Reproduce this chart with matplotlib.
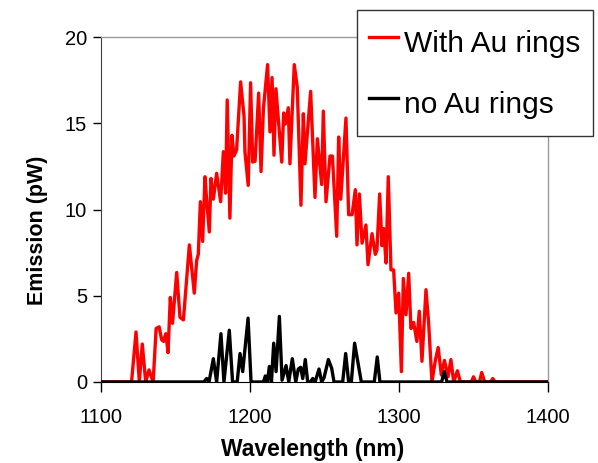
import matplotlib
matplotlib.use('Agg')
import matplotlib.pyplot as plt

plt.rcParams['font.family'] = ['Liberation Sans', 'DejaVu Sans']

# emission spectra (wavelength in nm, emission in pW)
wl_au = [1100, 1120.5, 1123.5, 1125.7, 1127.7, 1130, 1132.2, 1135, 1137, 1139,
         1140.7, 1142, 1143.5, 1145, 1146.5, 1148, 1150.8, 1153, 1155.3, 1159.3,
         1162.6, 1164.2, 1165.3, 1166.7, 1168.2, 1169.8, 1170.9, 1172.7, 1173.8, 1175.4,
         1177.6, 1180.3, 1182.1, 1183.6, 1184.7, 1186.5, 1187.9, 1189.2, 1191, 1193.7,
         1196, 1196.6, 1198.8, 1200.4, 1201.8, 1203.4, 1205.8, 1207.4, 1209, 1211.8,
         1213.4, 1214.8, 1216.1, 1217.4, 1221.3, 1222.6, 1223.7, 1225.7, 1226.8, 1229.7,
         1231.7, 1234.2, 1235.8, 1236.9, 1240.7, 1243.6, 1245.2, 1248.1, 1249.2, 1251,
         1253.7, 1255.3, 1258.2, 1259.5, 1260.9, 1264.4, 1266.2, 1268.5, 1270.7, 1271.8,
         1273.4, 1275.2, 1277.8, 1279.2, 1281.9, 1284.1, 1285.2, 1287, 1288.6, 1289.7,
         1291.3, 1292.8, 1294.6, 1296.4, 1298, 1299.8, 1301.6, 1302.9, 1304.7, 1306.5,
         1308, 1309.8, 1312, 1313.6, 1315.4, 1318.1, 1319.9, 1322.1, 1324.4, 1326.3,
         1328.4, 1330.5, 1332.9, 1334.8, 1336.7, 1339.2, 1341.2, 1348.5, 1350, 1351.5,
         1354, 1355.5, 1357.5, 1361.5, 1362.9, 1364.5, 1400]
em_au = [0, 0, 2.9, 0, 2.2, 0, 0.7, 0, 3.1, 3.2,
         2.45, 2.35, 2.8, 1.7, 4.9, 3.4, 6.35, 3.75, 3.6, 7.95,
         5.15, 7.05, 7.4, 10.45, 8.15, 11.9, 10.55, 8.7, 11.8, 10.6,
         12.1, 10.45, 13.35, 10.95, 16.35, 9.5, 14.3, 13.1, 13.45, 17.4,
         15.4, 13.35, 11.4, 17.35, 12.75, 12.8, 16.75, 12.2, 15.85, 18.4,
         14.5, 17.65, 13.15, 17.0, 12.75, 15.6, 14.95, 15.9, 12.65, 18.4,
         17.1, 10.25, 15.55, 12.65, 16.85, 10.7, 14.1, 11.45, 15.7, 10.45,
         13.1, 13.1, 8.45, 14.2, 10.6, 15.3, 9.7, 9.7, 11.15, 7.95,
         10.9, 8.05, 9.1, 6.8, 8.6, 7.4, 7.65, 10.9, 7.9, 8.9,
         6.9, 11.9, 6.5, 6.5, 4.0, 5.15, 0.6, 6.0, 3.9, 6.3,
         3.1, 3.45, 2.35, 4.1, 1.2, 5.35, 3.4, 0, 1.25, 2.0,
         0.4, 1.25, 0.3, 1.3, 0, 0.65, 0, 0, 0.3, 0,
         0, 0.55, 0, 0, 0.2, 0, 0]

wl_ref = [1100, 1169, 1170.9, 1172.5, 1175.4, 1177.6, 1180.5, 1182.5, 1186.1, 1188.3,
          1191.4, 1193.3, 1195.1, 1198.7, 1200.7, 1209, 1210.3, 1211.7, 1213, 1214.4,
          1215.9, 1217.5, 1219.7, 1221.5, 1224.2, 1226, 1228.4, 1230.7, 1232.4, 1234,
          1235.4, 1237.1, 1238.7, 1240.5, 1242.1, 1243.7, 1246.3, 1248.1, 1249.7, 1252.6,
          1254.8, 1256.4, 1262.2, 1264.2, 1266.2, 1268, 1270.2, 1272.2, 1274.7, 1283.4,
          1285.4, 1287.2, 1328.6, 1330.4, 1332.2, 1400]
em_ref = [0, 0, 0.2, 0, 1.35, 0, 2.8, 0, 3.0, 0,
          0, 1.65, 0.6, 3.7, 0, 0, 0.35, 0, 0.9, 0,
          2.25, 0.6, 3.8, 0.1, 0.95, 0, 1.35, 0, 0.75, 0.85,
          0.2, 1.3, 0, 0, 0.2, 0, 0.75, 0, 0.25, 1.3,
          0.8, 0, 0, 1.65, 0, 0, 2.25, 1.25, 0, 0,
          1.45, 0, 0, 0.6, 0, 0]

x_ticks = [1100, 1200, 1300, 1400]
y_ticks = [0, 5, 10, 15, 20]

fig = plt.figure(figsize=(5.98, 4.63), dpi=100)
ax = fig.add_axes([0.1689, 0.175, 0.7475, 0.745])

ax.plot(wl_au, em_au, color='#ff0000', lw=2.4, label='With Au rings', zorder=3)
ax.plot(wl_ref, em_ref, color='black', lw=2.4, label='no Au rings', zorder=4)

ax.set_xlim(1100, 1400)
ax.set_ylim(0, 20)
ax.set_xticks(x_ticks)
ax.set_yticks(y_ticks)
ax.tick_params(axis='x', direction='out', length=7, width=1, labelsize=14.5, pad=12)
ax.tick_params(axis='y', direction='out', length=6, width=1, labelsize=14.5, pad=4)

for side in ['top', 'right']:
  ax.spines[side].set_color('#999999')
  ax.spines[side].set_linewidth(1)
ax.spines['left'].set_color('#404040')
ax.spines['bottom'].set_color('black')
ax.spines['bottom'].set_zorder(5)

xl = ax.set_xlabel('Wavelength (nm)', fontsize=16.5, fontweight='bold')
yl = ax.set_ylabel('Emission (pW)', fontsize=15.5, fontweight='bold')
xl.set_va('center')
yl.set_va('center')
ax.xaxis.set_label_coords(0.474, -0.197)
ax.yaxis.set_label_coords(-0.143, 0.44)

leg = ax.legend(loc='upper left', bbox_to_anchor=(357 / 598, 1 - 10 / 463),
                bbox_transform=fig.transFigure, fontsize=21.5, frameon=True,
                fancybox=False, shadow=False, handlelength=0.97, handleheight=1.75,
                handletextpad=0.22, borderpad=0.4, labelspacing=0.65, borderaxespad=0)
leg.get_frame().set_edgecolor('#333333')
leg.get_frame().set_linewidth(1)
leg.get_frame().set_alpha(1)
for line in leg.get_lines():
  line.set_linewidth(2.4)

plt.savefig('out.png', dpi=100)
